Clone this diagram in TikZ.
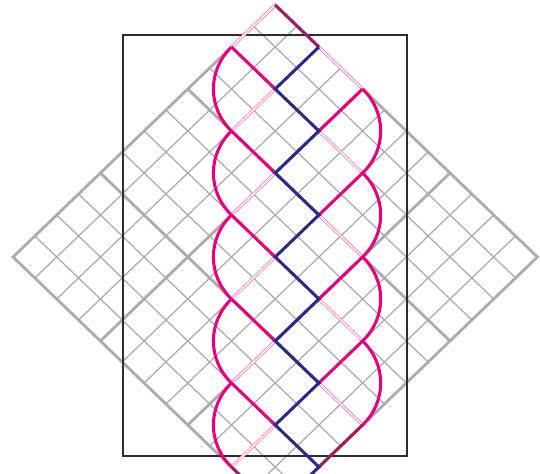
\documentclass[tikz,border=0pt]{standalone}
\definecolor{mag}{RGB}{230,0,126}
\definecolor{darkmag}{RGB}{158,30,98}
\definecolor{bluestrand}{RGB}{46,42,136}
\definecolor{gridgray}{RGB}{172,172,172}
\definecolor{framegray}{RGB}{45,45,45}
\tikzset{
  thingrid/.style={draw=gridgray, line width=0.95pt},
  thickgrid/.style={draw=gridgray, line width=2.1pt},
  framebox/.style={draw=framegray, line width=1.2pt},
  faint/.style={draw=mag!55, line width=0.45pt, double=mag!8, double distance=1.3pt},
  magstrand/.style={draw=mag, line width=2.3pt},
  darkstrand/.style={draw=darkmag, line width=2.3pt},
  bluestr/.style={draw=bluestrand, line width=2.3pt},
  lattice/.style={shift={(13,257)}, x={(16.3875pt,15.75pt)}, y={(16.3875pt,-15.75pt)}}
}
\begin{document}
\begin{tikzpicture}[x=0.75pt,y=-0.75pt]
\useasboundingbox (0,0) rectangle (540,474);
\fill[white] (0,0) rectangle (540,474);
\clip (0,0) rectangle (540,474);
% grid
\begin{scope}[lattice]
  \foreach \k in {1,2,3,5,6,7,9,10,11} {
    \draw[thingrid] (\k,0) -- (\k,12);
    \draw[thingrid] (0,\k) -- (12,\k);
  }
  \foreach \k in {4,8} {
    \draw[thickgrid] (\k,0) -- (\k,12);
    \draw[thickgrid] (0,\k) -- (12,\k);
  }
  \draw[thickgrid] (0,0) -- (12,0) -- (12,12) -- (0,12) -- cycle;
\end{scope}
% frame
\draw[framebox] (122.7,35) rectangle (406.7,456);
% braid
\begin{scope}[lattice]
  \foreach \a/\b/\c/\d in {10/0/12/0, 8/2/10/2, 6/4/8/4, 4/6/6/6, 2/8/4/8, 0/10/2/10,
                           12/2/12/4, 10/4/10/6, 8/6/8/8, 6/8/6/10, 4/10/4/12}
    \draw[faint] (\a,\b) -- (\c,\d);
  % left pieces
  \draw[magstrand] (10,0) -- (10,2);
  \foreach \k in {0,1,2,3}
    \draw[magstrand] ({10-2*\k},{2*\k}) .. controls ({8.8954-2*\k},{2*\k}) and ({8-2*\k},{0.8954+2*\k}) .. ({8-2*\k},{2+2*\k}) -- ({8-2*\k},{4+2*\k});
  \draw[magstrand] (2,8) .. controls (0.8954,8) and (0,8.8954) .. (0,10);
  \draw[darkstrand] (0,10) -- (0,12);
  % right pieces
  \draw[magstrand] (10,4) -- (12,4);
  \foreach \k in {0,1,2}
    \draw[magstrand] ({12-2*\k},{4+2*\k}) .. controls ({12-2*\k},{5.1046+2*\k}) and ({11.1046-2*\k},{6+2*\k}) .. ({10-2*\k},{6+2*\k}) -- ({8-2*\k},{6+2*\k});
  \draw[magstrand] (6,10) .. controls (6,11.1046) and (5.1046,12) .. (4,12);
  \draw[darkstrand] (4,12) -- (2,12);
  \draw[darkstrand] (12,0) -- (12,2);
  % blue zigzag
  \draw[bluestr] (12,2) -- (10,2) -- (10,4) -- (8,4) -- (8,6) -- (6,6) -- (6,8) -- (4,8) -- (4,10) -- (2,10) -- (2,12) -- (0,12);
\end{scope}
\end{tikzpicture}
\end{document}
